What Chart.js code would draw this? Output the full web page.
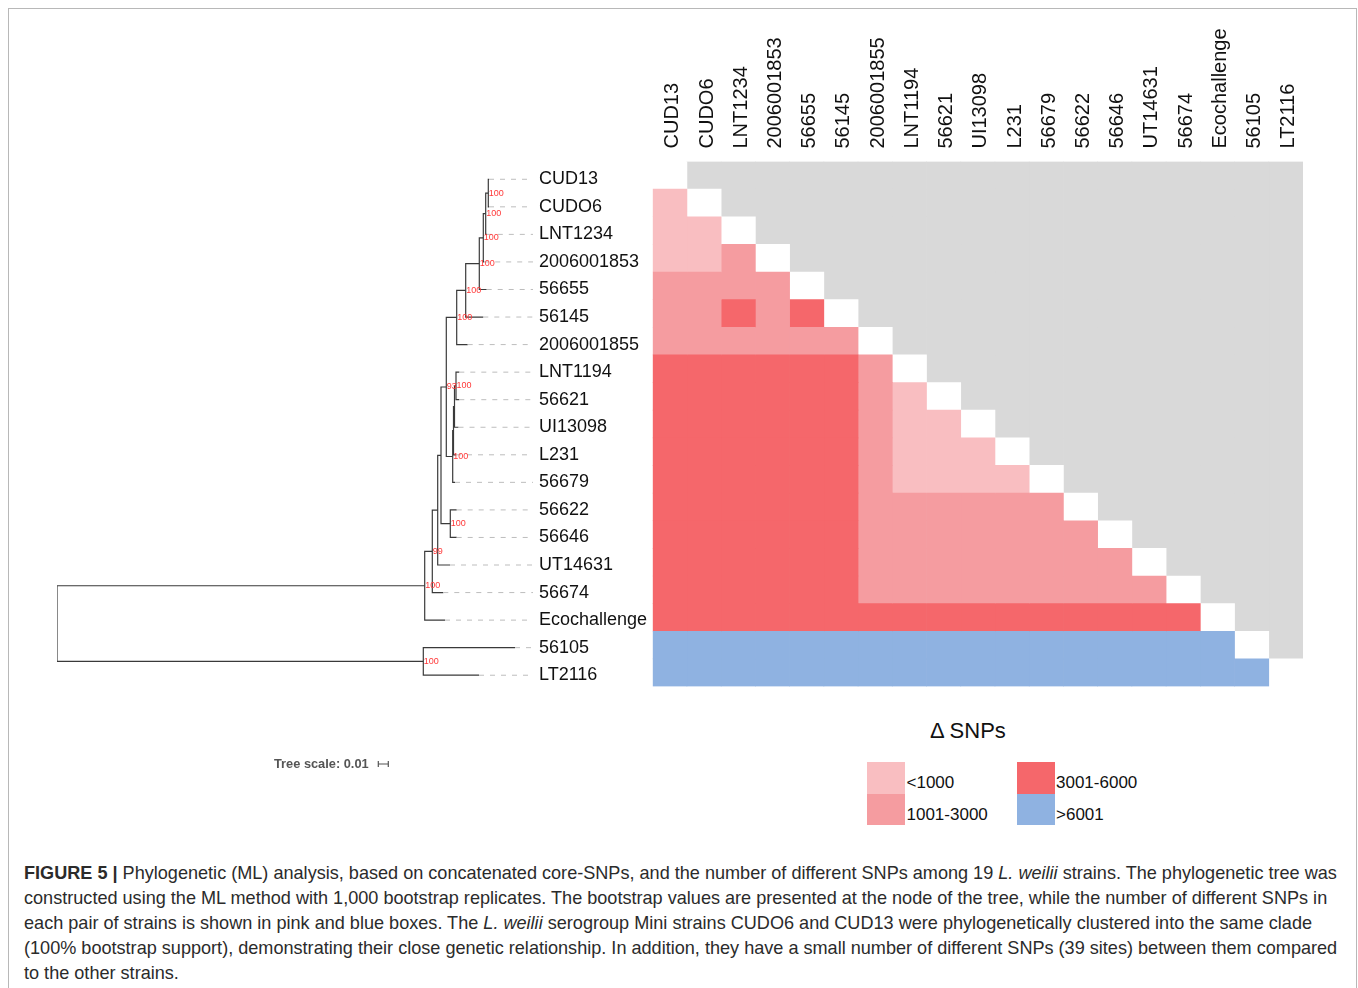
<!DOCTYPE html>
<html>
<head>
<meta charset="utf-8">
<script src="https://cdn.jsdelivr.net/npm/chart.js@4.4.1/dist/chart.umd.min.js"></script>
<style>
  body { margin: 0; background: #fff; font-family: 'Liberation Sans', Arial, sans-serif; }
  #page { position: relative; width: 1358px; height: 988px; overflow: hidden; }
  #frame { position: absolute; left: 8px; top: 8px; width: 1347px; height: 1010px; border: 1px solid #b8b8b8; }
  .wrap { position: absolute; }
  #scaleLabel { position: absolute; left: 274px; top: 757px; font-size: 12.8px; line-height: 14px; font-weight: bold; color: #555; }
  #legendTitle { position: absolute; left: 930px; top: 718px; font-size: 22px; line-height: 26px; color: #111; }
  .key { position: absolute; width: 38px; height: 31.5px; }
  .keyLabel { position: absolute; font-size: 17px; line-height: 20px; color: #111; }
  #caption { position: absolute; left: 24px; top: 861px; font-size: 18.1px; line-height: 25px; color: #2b2b2b; white-space: nowrap; }
</style>
</head>
<body>
<div id="page">
  <div id="frame"></div>
  <div class="wrap" style="left:0; top:0; width:660px; height:790px;"><canvas id="tree"></canvas></div>
  <div class="wrap" style="left:640px; top:0; width:680px; height:700px;"><canvas id="matrix"></canvas></div>
  <div id="scaleLabel">Tree scale: 0.01</div>
  <div id="legendTitle">Δ SNPs</div>
  <div id="legend"></div>
  <div id="caption">
    <b>FIGURE 5 |</b> Phylogenetic (ML) analysis, based on concatenated core-SNPs, and the number of different SNPs among 19 <i>L. weilii</i> strains. The phylogenetic tree was<br>
    constructed using the ML method with 1,000 bootstrap replicates. The bootstrap values are presented at the node of the tree, while the number of different SNPs in<br>
    each pair of strains is shown in pink and blue boxes. The <i>L. weilii</i> serogroup Mini strains CUDO6 and CUD13 were phylogenetically clustered into the same clade<br>
    (100% bootstrap support), demonstrating their close genetic relationship. In addition, they have a small number of different SNPs (39 sites) between them compared<br>
    to the other strains.
  </div>
</div>
<script>
// strains in tree order (rows top to bottom, columns left to right)
const strains = ['CUD13', 'CUDO6', 'LNT1234', '2006001853', '56655', '56145', '2006001855',
  'LNT1194', '56621', 'UI13098', 'L231', '56679', '56622', '56646', 'UT14631', '56674',
  'Ecochallenge', '56105', 'LT2116'];

// branch length from root to each tip
const tipDepth = [0.432, 0.432, 0.4298, 0.4272, 0.4297, 0.4263, 0.4107,
  0.4023, 0.4023, 0.4015, 0.399, 0.398, 0.3997, 0.3997, 0.393, 0.3863,
  0.388, 0.458, 0.422];

// internal nodes: [name, children (tip index or node name), depth, bootstrap]
const treeNodes = [
  ['A', [0, 1], 0.4313, 100],
  ['B', ['A', 2], 0.4287, 100],
  ['C', ['B', 3], 0.4263, 100],
  ['D', ['C', 4], 0.4223, 100],
  ['E', ['D', 5], 0.4087, 100],
  ['F', ['E', 6], 0.3997, 100],
  ['H', [7, 8], 0.399, 100],
  ['H2', ['H', 9], 0.3975, null],
  ['H3', ['H2', 10], 0.3965, null],
  ['J', ['H3', 11], 0.3957, 100],
  ['G', ['F', 'J'], 0.3893, 93],
  ['L', [12, 13], 0.3933, 100],
  ['K', ['G', 'L'], 0.384, null],
  ['P', ['K', 14], 0.3807, null],
  ['N', ['P', 15], 0.3753, 99],
  ['O', ['N', 16], 0.3677, 100],
  ['R', [17, 18], 0.3663, 100],
  ['root', ['O', 'R'], 0, null]
];

// SNP difference classes
const snpBins = ['<1000', '1001-3000', '3001-6000', '>6001'];
// lower triangle: bin index for each pair (row strain vs column strain)
const pairBins = [
  [],
  [0],
  [0, 0],
  [0, 0, 1],
  [1, 1, 1, 1],
  [1, 1, 2, 1, 2],
  [1, 1, 1, 1, 1, 1],
  [2, 2, 2, 2, 2, 2, 1],
  [2, 2, 2, 2, 2, 2, 1, 0],
  [2, 2, 2, 2, 2, 2, 1, 0, 0],
  [2, 2, 2, 2, 2, 2, 1, 0, 0, 0],
  [2, 2, 2, 2, 2, 2, 1, 0, 0, 0, 0],
  [2, 2, 2, 2, 2, 2, 1, 1, 1, 1, 1, 1],
  [2, 2, 2, 2, 2, 2, 1, 1, 1, 1, 1, 1, 1],
  [2, 2, 2, 2, 2, 2, 1, 1, 1, 1, 1, 1, 1, 1],
  [2, 2, 2, 2, 2, 2, 1, 1, 1, 1, 1, 1, 1, 1, 1],
  [2, 2, 2, 2, 2, 2, 2, 2, 2, 2, 2, 2, 2, 2, 2, 2],
  [3, 3, 3, 3, 3, 3, 3, 3, 3, 3, 3, 3, 3, 3, 3, 3, 3],
  [3, 3, 3, 3, 3, 3, 3, 3, 3, 3, 3, 3, 3, 3, 3, 3, 3, 3]
];

const binColors = ['#f9bec1', '#f59ca0', '#f5676b', '#8fb2e1'];
const upperGrey = '#d9d9d9';
const FONT = "'Liberation Sans', Arial, sans-serif";
Chart.defaults.font.family = FONT;

// ---------- tree ----------
const byName = {};
treeNodes.forEach(([name, kids, depth, support]) => { byName[name] = { kids, depth, support }; });
function nodeY(k) {
  if (typeof k === 'number') return k;
  const kids = byName[k].kids;
  return (nodeY(kids[0]) + nodeY(kids[1])) / 2;
}
function nodeX(k) {
  return typeof k === 'number' ? tipDepth[k] : byName[k].depth;
}
const treeMax = 0.476;

const branchSets = treeNodes.map(([name, kids, depth]) => ({
  data: [
    { x: nodeX(kids[0]), y: nodeY(kids[0]) },
    { x: depth, y: nodeY(kids[0]) },
    { x: depth, y: nodeY(kids[1]) },
    { x: nodeX(kids[1]), y: nodeY(kids[1]) }
  ],
  showLine: true,
  borderColor: '#3a3a3a',
  borderWidth: 1.2,
  pointRadius: 0
}));

const leaderSets = strains.map((s, i) => ({
  data: [{ x: tipDepth[i], y: i }, { x: treeMax, y: i }],
  showLine: true,
  borderColor: '#bdbdbd',
  borderWidth: 1,
  borderDash: [5, 6],
  pointRadius: 0
}));

const treeExtras = {
  id: 'treeExtras',
  afterDatasetsDraw(chart) {
    const { ctx, scales: { x, y } } = chart;
    ctx.save();
    ctx.font = '9px ' + FONT;
    ctx.fillStyle = '#ff3838';
    ctx.textAlign = 'left';
    ctx.textBaseline = 'middle';
    treeNodes.forEach(([name, kids, depth, support]) => {
      if (support == null) return;
      ctx.fillText(String(support), x.getPixelForValue(depth) + 0.5, y.getPixelForValue(nodeY(name)));
    });
    // scale bar of 0.01
    const x0 = x.getPixelForValue(0.3213), x1 = x.getPixelForValue(0.3313), yb = 764;
    ctx.strokeStyle = '#555';
    ctx.lineWidth = 1.2;
    ctx.beginPath();
    ctx.moveTo(x0, yb); ctx.lineTo(x1, yb);
    ctx.moveTo(x0, yb - 3); ctx.lineTo(x0, yb + 3);
    ctx.moveTo(x1, yb - 3); ctx.lineTo(x1, yb + 3);
    ctx.stroke();
    ctx.restore();
  }
};

new Chart(document.getElementById('tree'), {
  type: 'scatter',
  data: { datasets: [...leaderSets, ...branchSets] },
  options: {
    animation: false,
    responsive: true,
    maintainAspectRatio: false,
    layout: { padding: { left: 57, top: 165.5, bottom: 101, right: 0 } },
    plugins: { legend: { display: false }, tooltip: { enabled: false } },
    scales: {
      x: { type: 'linear', min: 0, max: treeMax, display: false },
      y: {
        type: 'linear',
        min: -0.5,
        max: 18.5,
        reverse: true,
        position: 'right',
        afterBuildTicks: s => { s.ticks = strains.map((_, i) => ({ value: i })); },
        afterFit: s => { s.width = 127; },
        grid: { display: false, drawTicks: false },
        border: { display: false },
        ticks: {
          autoSkip: false,
          padding: 6,
          color: '#111',
          font: { size: 18 },
          callback: v => strains[v]
        }
      }
    }
  },
  plugins: [treeExtras]
});

// ---------- SNP matrix ----------
function cellColor(r, c) {
  if (c === r) return '#ffffff';
  if (c > r) return upperGrey;
  return binColors[pairBins[r][c]];
}

const columnSets = strains.map((s, c) => ({
  label: s,
  data: strains.map(() => 1),
  backgroundColor: strains.map((_, r) => cellColor(r, c)),
  borderWidth: 0,
  barPercentage: 1,
  categoryPercentage: 1
}));

new Chart(document.getElementById('matrix'), {
  type: 'bar',
  data: { labels: strains, datasets: columnSets },
  options: {
    indexAxis: 'y',
    animation: false,
    responsive: true,
    maintainAspectRatio: false,
    layout: { padding: { left: 12.7, right: 17, top: 0, bottom: 13.5 } },
    plugins: { legend: { display: false }, tooltip: { enabled: false } },
    scales: {
      x: { type: 'linear', stacked: true, min: 0, max: strains.length, display: false },
      y: { stacked: true, display: false },
      xTop: {
        type: 'category',
        labels: strains,
        position: 'top',
        offset: true,
        afterFit: s => { s.height = 161.5; s.paddingLeft = 0; s.paddingRight = 0; },
        grid: { display: false, drawTicks: false },
        border: { display: false },
        ticks: {
          autoSkip: false,
          minRotation: 90,
          maxRotation: 90,
          padding: 13,
          labelOffset: 27,
          color: '#111',
          font: { size: 20 }
        }
      }
    }
  }
});

// ---------- legend ----------
const legend = document.getElementById('legend');
snpBins.forEach((bin, i) => {
  const col = Math.floor(i / 2), row = i % 2;
  const left = 867 + col * 149.5, top = 762 + row * 31.5;
  const box = document.createElement('div');
  box.className = 'key';
  box.style.left = left + 'px';
  box.style.top = top + 'px';
  box.style.background = binColors[i];
  legend.appendChild(box);
  const lab = document.createElement('div');
  lab.className = 'keyLabel';
  lab.style.left = (left + 39.5) + 'px';
  lab.style.top = (top + 11) + 'px';
  lab.textContent = bin;
  legend.appendChild(lab);
});
</script>
</body>
</html>
